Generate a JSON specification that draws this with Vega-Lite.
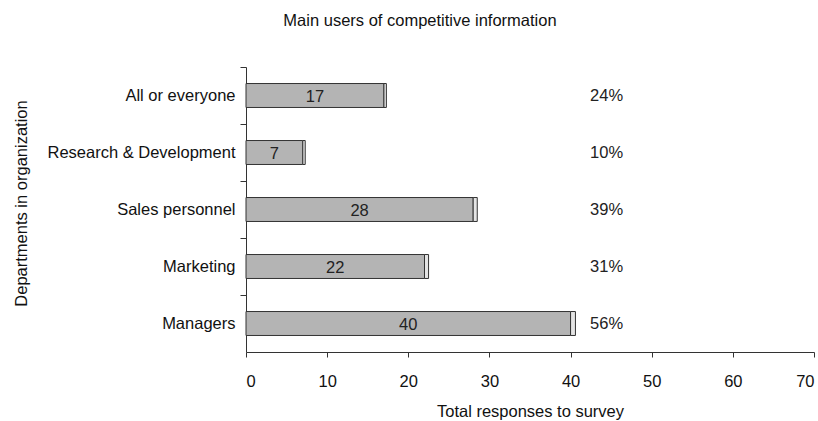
{
  "$schema": "https://vega.github.io/schema/vega-lite/v6.json",
  "width": 568,
  "height": 285,
  "autosize": "none",
  "padding": {"left": 246, "top": 67, "right": 4, "bottom": 69},
  "background": "white",
  "config": {"view": {"stroke": null}, "font": "Liberation Sans"},
  "title": {"text": "Main users of competitive information", "fontSize": 16.5, "fontWeight": "normal", "font": "Liberation Sans", "color": "#111", "offset": 37, "dx": -110},
  "data": {"values": [
    {"dept": "All or everyone", "part": "main", "value": 17, "pct": "24%"},
    {"dept": "All or everyone", "part": "extra", "value": 0.3},
    {"dept": "Research & Development", "part": "main", "value": 7, "pct": "10%"},
    {"dept": "Research & Development", "part": "extra", "value": 0.3},
    {"dept": "Sales personnel", "part": "main", "value": 28, "pct": "39%"},
    {"dept": "Sales personnel", "part": "extra", "value": 0.5},
    {"dept": "Marketing", "part": "main", "value": 22, "pct": "31%"},
    {"dept": "Marketing", "part": "extra", "value": 0.5},
    {"dept": "Managers", "part": "main", "value": 40, "pct": "56%"},
    {"dept": "Managers", "part": "extra", "value": 0.6}
  ]},
  "encoding": {
    "y": {
      "field": "dept", "type": "nominal",
      "sort": ["All or everyone", "Research & Development", "Sales personnel", "Marketing", "Managers"],
      "scale": {"paddingInner": 0, "paddingOuter": 0},
      "axis": {
        "title": "Departments in organization",
        "titleFontSize": 16.5, "titleFontWeight": "normal", "titleColor": "#111",
        "titleX": -217, "titleY": 136,
        "labelFontSize": 16.5, "labelColor": "#111", "labelPadding": 5, "labelLimit": 300,
        "tickSize": 6, "tickColor": "#333", "domainColor": "#333",
        "bandPosition": 0
      }
    }
  },
  "layer": [
    {
      "mark": {"type": "bar", "height": {"band": 0.42}, "stroke": "#333", "strokeWidth": 1},
      "encoding": {
        "x": {
          "field": "value", "type": "quantitative", "stack": "zero",
          "scale": {"domain": [0, 70], "nice": false},
          "axis": {
            "title": "Total responses to survey",
            "values": [0, 10, 20, 30, 40, 50, 60, 70],
            "grid": false,
            "titleFontSize": 16.5, "titleFontWeight": "normal", "titleColor": "#111", "titlePadding": 14,
            "labelFontSize": 16.5, "labelColor": "#111", "labelPadding": 16,
            "tickSize": 5, "tickColor": "#333", "domainColor": "#333"
          }
        },
        "color": {"field": "part", "type": "nominal", "scale": {"domain": ["main", "extra"], "range": ["#b4b4b4", "#e4e4e4"]}, "legend": null},
        "order": {"field": "part", "sort": "descending"}
      }
    },
    {
      "transform": [{"filter": "datum.part == 'main'"}],
      "mark": {"type": "text", "fontSize": 16.5, "color": "#222", "align": "center", "baseline": "middle", "dy": 1},
      "encoding": {
        "x": {"field": "value", "type": "quantitative", "scale": {"domain": [0, 140], "nice": false}, "axis": null},
        "text": {"field": "value", "type": "quantitative"}
      }
    },
    {
      "transform": [{"filter": "datum.part == 'main'"}],
      "mark": {"type": "text", "fontSize": 16.5, "color": "#222", "align": "left", "baseline": "middle"},
      "encoding": {
        "x": {"datum": 42.4, "type": "quantitative", "scale": {"domain": [0, 70], "nice": false}, "axis": null},
        "text": {"field": "pct", "type": "nominal"}
      }
    }
  ],
  "resolve": {"scale": {"x": "independent"}}
}
